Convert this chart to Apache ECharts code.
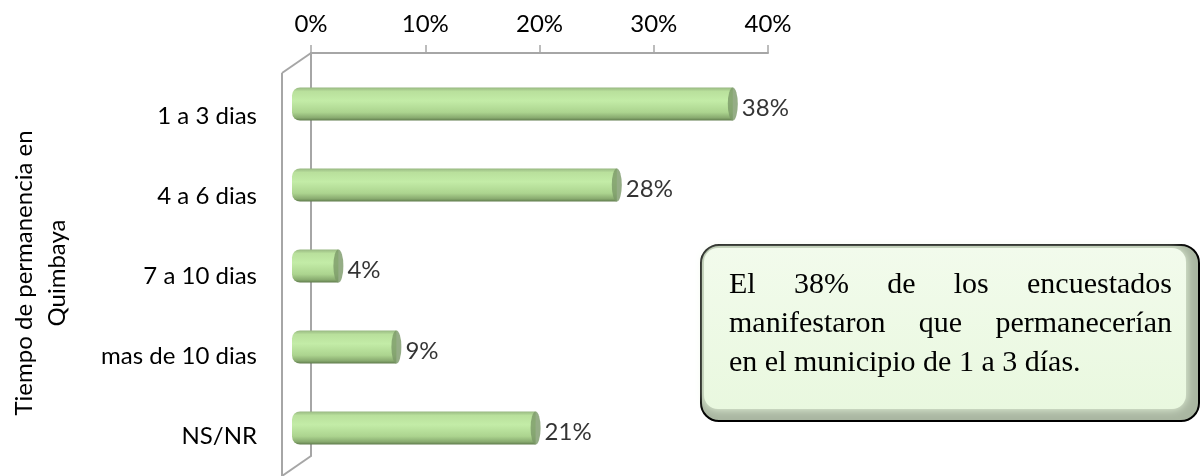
<!DOCTYPE html>
<html lang="es">
<head>
    <meta charset="utf-8" />
    <title>Tiempo de permanencia en Quimbaya</title>
    <script src="https://cdn.jsdelivr.net/npm/echarts@6/dist/echarts.min.js"></script>
    <style>
        html, body { margin: 0; padding: 0; background: #fff; }
        #main { width: 1202px; height: 476px; }
    </style>
</head>
<body>
    <div id="main"></div>
    <script>
    // datos del grafico
    var categorias = ['1 a 3 dias', '4 a 6 dias', '7 a 10 dias', 'mas de 10 dias', 'NS/NR'];
    var valores = [0.38, 0.28, 0.04, 0.09, 0.21];
    var ejeMin = 0;
    var ejeMax = 0.4;
    var ejePaso = 0.1;
    var tituloEje = ['Tiempo de permanencia en', 'Quimbaya'];
    var notaLineas = [
        'El 38% de los encuestados',
        'manifestaron que permanecerían',
        'en el municipio de 1 a 3 días.'
    ];

    var gris = '#a6a6a6';
    var fuente = 'Lato';

    function pct(v) {
        return Math.round(v * 100) + '%';
    }

    // texto justificado del recuadro (palabra por palabra)
    function textoJustificado(lineas, x0, x1, yTop, alto, font) {
        var ctx = document.createElement('canvas').getContext('2d');
        ctx.font = font;
        var out = [];
        for (var i = 0; i < lineas.length; i++) {
            var palabras = lineas[i].split(' ');
            var y = yTop + i * alto;
            var anchos = palabras.map(function(p) { return ctx.measureText(p).width; });
            var total = anchos.reduce(function(a, b) { return a + b; }, 0);
            var ultima = i == lineas.length - 1;
            var hueco = ultima ? ctx.measureText(' ').width : (x1 - x0 - total) / (palabras.length - 1);
            var x = x0;
            for (var j = 0; j < palabras.length; j++) {
                out.push({
                    type: 'text',
                    x: x,
                    y: y,
                    z: 20,
                    style: {
                        text: palabras[j],
                        font: font,
                        fill: '#000',
                        textVerticalAlign: 'middle'
                    }
                });
                x += anchos[j] + hueco;
            }
        }
        return out;
    }

    var myChart = echarts.init(document.getElementById('main'));

    var graficos = [
        // marco 3D (pared lateral)
        { type: 'line', z: 1, shape: { x1: 311, y1: 53, x2: 282, y2: 73 }, style: { stroke: gris, lineWidth: 2 } },
        { type: 'line', z: 1, shape: { x1: 282, y1: 73, x2: 282, y2: 476 }, style: { stroke: gris, lineWidth: 2 } },
        { type: 'line', z: 1, shape: { x1: 311, y1: 456, x2: 282, y2: 476 }, style: { stroke: gris, lineWidth: 2 } },
        // titulo del eje
        {
            type: 'text',
            x: 41,
            y: 273,
            rotation: Math.PI / 2,
            style: {
                text: tituloEje.join('\n'),
                font: '24px ' + fuente,
                fill: '#000',
                textAlign: 'center',
                textVerticalAlign: 'middle',
                lineHeight: 33
            }
        },
        // recuadro de la nota
        {
            type: 'rect',
            z: 10,
            shape: { x: 701, y: 245, width: 498, height: 176, r: 18 },
            style: { fill: '#a9b6a1', stroke: '#000', lineWidth: 2 }
        },
        {
            type: 'rect',
            z: 11,
            shape: { x: 704, y: 248, width: 482, height: 161, r: 14 },
            style: {
                fill: new echarts.graphic.LinearGradient(0, 0, 0, 1, [
                    { offset: 0, color: '#f2fbec' },
                    { offset: 1, color: '#e9f8df' }
                ]),
                shadowBlur: 10,
                shadowColor: '#e9f8df'
            }
        }
    ];
    graficos = graficos.concat(textoJustificado(notaLineas, 729, 1172, 285, 39, '30px "Liberation Serif"'));

    var option = {
        backgroundColor: '#fff',
        animation: false,
        textStyle: { fontFamily: fuente },
        grid: [
            { left: 311, top: 53, width: 457, height: 403 },
            { left: 292, top: 63.5, width: 464, height: 405 },
            { left: 265, top: 76, width: 10, height: 406 }
        ],
        xAxis: [
            {
                gridIndex: 0,
                type: 'value',
                position: 'top',
                min: ejeMin,
                max: ejeMax,
                interval: ejePaso,
                axisLine: { show: true, lineStyle: { color: gris, width: 2 } },
                axisTick: { show: true, length: 8, lineStyle: { color: gris, width: 1.5 } },
                axisLabel: { formatter: pct, fontSize: 24, color: '#000', margin: 17 },
                splitLine: { show: false }
            },
            { gridIndex: 1, type: 'value', min: ejeMin, max: ejeMax, show: false },
            { gridIndex: 2, type: 'value', show: false }
        ],
        yAxis: [
            {
                gridIndex: 0,
                type: 'category',
                inverse: true,
                data: categorias,
                axisLine: { show: true, lineStyle: { color: gris, width: 2 } },
                axisTick: { show: false },
                axisLabel: { show: false }
            },
            { gridIndex: 1, type: 'category', inverse: true, data: categorias, show: false },
            {
                gridIndex: 2,
                type: 'category',
                inverse: true,
                data: categorias,
                axisLine: { show: false },
                axisTick: { show: false },
                axisLabel: { fontSize: 24, color: '#000', margin: 8 }
            }
        ],
        series: [
            {
                type: 'bar',
                xAxisIndex: 1,
                yAxisIndex: 1,
                data: valores,
                barWidth: 33,
                z: 3,
                itemStyle: {
                    borderRadius: [8, 0, 0, 8],
                    color: new echarts.graphic.LinearGradient(0, 0, 0, 1, [
                        { offset: 0, color: '#98b882' },
                        { offset: 0.12, color: '#b9e09c' },
                        { offset: 0.4, color: '#c3eca7' },
                        { offset: 0.75, color: '#acd48f' },
                        { offset: 0.92, color: '#88aa6f' },
                        { offset: 1, color: '#5f7b4c' }
                    ])
                }
            },
            {
                type: 'scatter',
                xAxisIndex: 1,
                yAxisIndex: 1,
                data: valores,
                symbol: 'circle',
                symbolSize: [10, 33],
                z: 4,
                itemStyle: { color: '#7a9868' },
                label: {
                    show: true,
                    position: 'right',
                    distance: 4,
                    offset: [0, 4],
                    formatter: function(p) { return pct(p.value); },
                    fontSize: 24,
                    color: '#000'
                }
            }
        ],
        graphic: graficos
    };
    myChart.setOption(option);
    </script>
</body>
</html>
